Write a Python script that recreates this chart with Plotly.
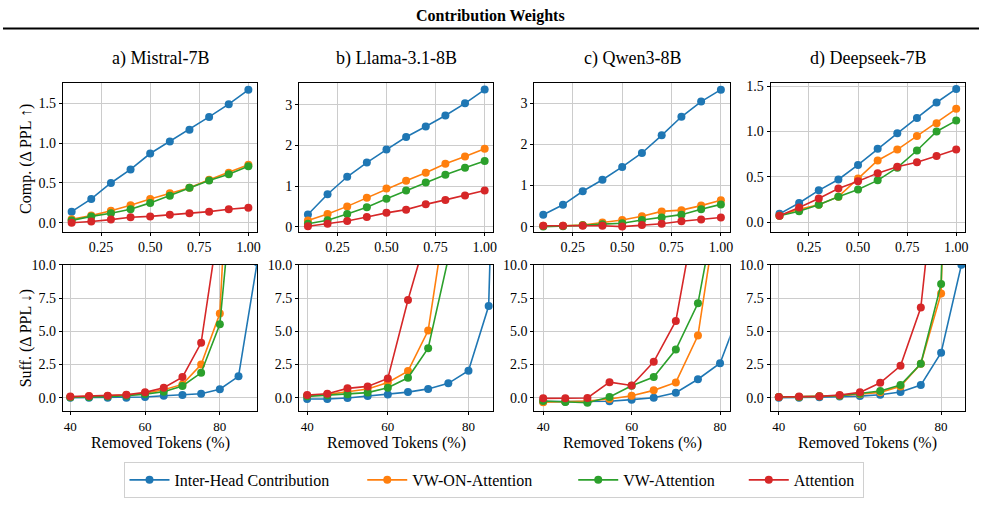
import plotly.graph_objects as go
from plotly.subplots import make_subplots

# ---------------- data ----------------
series_names = ["Inter-Head Contribution", "VW-ON-Attention", "VW-Attention", "Attention"]
series_colors = ["#1f77b4", "#ff7f0e", "#2ca02c", "#d62728"]
legend_pad = [7, 9, 6, 1]  # trailing non-breaking spaces to match legend spacing
model_titles = ["a) Mistral-7B", "b) Llama-3.1-8B", "c) Qwen3-8B", "d) Deepseek-7B"]

comp_x = [0.1, 0.2, 0.3, 0.4, 0.5, 0.6, 0.7, 0.8, 0.9, 1.0]
comp_mistral = [
    [0.14, 0.30, 0.50, 0.67, 0.87, 1.02, 1.17, 1.33, 1.49, 1.67],
    [0.045, 0.09, 0.15, 0.22, 0.30, 0.37, 0.44, 0.54, 0.63, 0.73],
    [0.03, 0.08, 0.12, 0.17, 0.25, 0.34, 0.44, 0.53, 0.61, 0.71],
    [0.0, 0.015, 0.04, 0.07, 0.08, 0.10, 0.12, 0.14, 0.17, 0.19],
]
comp_llama = [
    [0.30, 0.80, 1.23, 1.58, 1.90, 2.21, 2.47, 2.74, 3.04, 3.38],
    [0.15, 0.31, 0.50, 0.71, 0.94, 1.13, 1.33, 1.55, 1.73, 1.92],
    [0.07, 0.16, 0.31, 0.48, 0.69, 0.89, 1.09, 1.28, 1.45, 1.62],
    [0.01, 0.07, 0.14, 0.24, 0.34, 0.42, 0.55, 0.66, 0.77, 0.89],
]
comp_qwen = [
    [0.29, 0.53, 0.86, 1.14, 1.45, 1.79, 2.22, 2.67, 3.04, 3.33],
    [0.02, 0.02, 0.04, 0.10, 0.16, 0.25, 0.37, 0.40, 0.51, 0.64],
    [0.0, 0.01, 0.03, 0.06, 0.08, 0.16, 0.22, 0.29, 0.42, 0.54],
    [0.02, 0.02, 0.02, 0.02, 0.0, 0.04, 0.07, 0.13, 0.17, 0.22],
]
comp_deepseek = [
    [0.09, 0.21, 0.35, 0.47, 0.63, 0.81, 0.98, 1.15, 1.32, 1.47],
    [0.07, 0.14, 0.19, 0.28, 0.48, 0.68, 0.80, 0.95, 1.09, 1.25],
    [0.07, 0.12, 0.19, 0.28, 0.36, 0.46, 0.60, 0.79, 1.00, 1.12],
    [0.07, 0.16, 0.26, 0.37, 0.45, 0.54, 0.61, 0.66, 0.73, 0.80],
]

suff_x = [40, 45, 50, 55, 60, 65, 70, 75, 80, 85, 90]
suff_mistral = [
    [0.0, 0.0, 0.0, 0.0, 0.05, 0.15, 0.2, 0.3, 0.64, 1.61, 10.2],
    [0.05, 0.1, 0.13, 0.2, 0.33, 0.59, 1.0, 2.5, 6.33, 29.0, 60.0],
    [0.03, 0.05, 0.08, 0.15, 0.27, 0.45, 0.88, 1.87, 5.53, 20.5, 50.0],
    [0.08, 0.12, 0.15, 0.22, 0.4, 0.75, 1.55, 4.13, 13.6, 40.0, 80.0],
]
suff_llama = [
    [-0.1, -0.1, -0.03, 0.12, 0.24, 0.42, 0.66, 1.08, 2.03, 6.9, 60.0],
    [0.15, 0.25, 0.45, 0.65, 1.15, 2.0, 5.05, 15.0, 40.0, 100.0, 150.0],
    [0.1, 0.18, 0.25, 0.38, 0.75, 1.5, 3.72, 10.5, 30.0, 80.0, 120.0],
    [0.2, 0.3, 0.7, 0.85, 1.45, 7.35, 12.6, 40.0, 90.0, 150.0, 200.0],
]
suff_qwen = [
    [-0.3, -0.3, -0.3, -0.27, -0.15, 0.0, 0.37, 1.39, 2.59, 7.0, 20.0],
    [-0.34, -0.28, -0.25, -0.1, 0.15, 0.55, 1.15, 4.68, 15.6, 40.0, 80.0],
    [-0.25, -0.32, -0.38, 0.05, 0.9, 1.55, 3.62, 7.1, 16.0, 40.0, 80.0],
    [-0.05, -0.05, -0.02, 1.17, 0.92, 2.7, 5.78, 14.9, 40.0, 80.0, 120.0],
]
suff_deepseek = [
    [0.0, 0.0, 0.03, 0.08, 0.12, 0.22, 0.43, 0.95, 3.38, 10.0, 40.0],
    [0.05, 0.05, 0.1, 0.15, 0.25, 0.4, 0.85, 2.55, 7.85, 60.0, 120.0],
    [0.05, 0.05, 0.1, 0.15, 0.3, 0.5, 0.95, 2.55, 8.55, 60.0, 120.0],
    [0.05, 0.08, 0.1, 0.2, 0.4, 1.12, 2.4, 6.78, 21.0, 60.0, 120.0],
]

comp_yticks = [[0.0, 0.5, 1.0, 1.5], [0, 1, 2, 3], [0, 1, 2, 3], [0.0, 0.5, 1.0, 1.5]]
comp_yticktext = [["0.0", "0.5", "1.0", "1.5"], ["0", "1", "2", "3"], ["0", "1", "2", "3"],
                  ["0.0", "0.5", "1.0", "1.5"]]
comp_yranges = [[-0.11, 1.75], [-0.12, 3.53], [-0.12, 3.48], [-0.105, 1.53]]
comp_xticks = [0.25, 0.50, 0.75, 1.00]
comp_xticktext = ["0.25", "0.50", "0.75", "1.00"]

suff_yticks = [0.0, 2.5, 5.0, 7.5, 10.0]
suff_yticktext = ["0.0", "2.5", "5.0", "7.5", "10.0"]
suff_xticks = [40, 60, 80]
suff_xranges = [[38, 90], [38, 86.2], [38, 82.2], [38, 85.9]]

# ---------------- figure ----------------
W, H = 985, 512
FONT = "Liberation Serif"

fig = make_subplots(rows=2, cols=4)

comp_all = [comp_mistral, comp_llama, comp_qwen, comp_deepseek]
suff_all = [suff_mistral, suff_llama, suff_qwen, suff_deepseek]

for c in range(4):
    for s in range(4):
        fig.add_trace(go.Scatter(
            x=comp_x, y=comp_all[c][s], mode="lines+markers",
            line=dict(color=series_colors[s], width=1.6),
            marker=dict(color=series_colors[s], size=8),
            name=series_names[s] + "\u00a0" * legend_pad[s], legendgroup=series_names[s],
            showlegend=(c == 0)), row=1, col=c + 1)
        fig.add_trace(go.Scatter(
            x=suff_x, y=suff_all[c][s], mode="lines+markers",
            line=dict(color=series_colors[s], width=1.6),
            marker=dict(color=series_colors[s], size=8),
            name=series_names[s], legendgroup=series_names[s],
            showlegend=False), row=2, col=c + 1)

# pixel-based domains
xdom_px = [(63, 258), (300, 495), (536, 732), (773, 968)]
top_px = (78, 229)
bot_px = (263, 412)

def xd(p):
    return [p[0] / W, p[1] / W]

def yd(p):
    return [1 - p[1] / H, 1 - p[0] / H]

axis_common = dict(showline=True, mirror=True, linecolor="black", linewidth=1,
                   showgrid=True, gridcolor="#cccccc", gridwidth=1, zeroline=False,
                   ticks="outside", ticklen=3, tickcolor="black",
                   tickfont=dict(family=FONT, size=14, color="black"))
bottom_x_common = dict(axis_common)
bottom_x_common["tickfont"] = dict(family=FONT, size=13, color="black")

for c in range(4):
    fig.update_xaxes(row=1, col=c + 1, domain=xd(xdom_px[c]), range=[0.055, 1.045],
                     tickvals=comp_xticks, ticktext=comp_xticktext, **axis_common)
    fig.update_yaxes(row=1, col=c + 1, domain=yd(top_px), range=comp_yranges[c],
                     tickvals=comp_yticks[c], ticktext=comp_yticktext[c], **axis_common)
    fig.update_xaxes(row=2, col=c + 1, domain=xd(xdom_px[c]), range=suff_xranges[c],
                     tickvals=suff_xticks, **bottom_x_common)
    fig.update_yaxes(row=2, col=c + 1, domain=yd(bot_px), range=[-1, 10],
                     tickvals=suff_yticks, ticktext=suff_yticktext, **axis_common)

annotations = []
annotations.append(dict(text="<b>Contribution Weights</b>", x=492 / W, y=1 - 9 / H,
                        xref="paper", yref="paper", showarrow=False,
                        font=dict(family=FONT, size=16, color="black"),
                        xanchor="center", yanchor="middle"))
for c in range(4):
    cx = (xdom_px[c][0] + xdom_px[c][1]) / 2 / W
    annotations.append(dict(text=model_titles[c], x=cx, y=1 - 53 / H, xref="paper", yref="paper",
                            showarrow=False, font=dict(family=FONT, size=18, color="black"),
                            xanchor="center", yanchor="middle"))
    annotations.append(dict(text="Removed Tokens (%)", x=cx, y=1 - 445 / H, xref="paper",
                            yref="paper", showarrow=False,
                            font=dict(family=FONT, size=16, color="black"),
                            xanchor="center", yanchor="middle"))
annotations.append(dict(text="Comp. (Δ PPL ↑)", x=26 / W, y=1 - 155 / H, xref="paper",
                        yref="paper", showarrow=False, textangle=-90,
                        font=dict(family=FONT, size=16, color="black"),
                        xanchor="center", yanchor="middle"))
annotations.append(dict(text="Suff. (Δ PPL ↓)", x=26 / W, y=1 - 338 / H, xref="paper",
                        yref="paper", showarrow=False, textangle=-90,
                        font=dict(family=FONT, size=16, color="black"),
                        xanchor="center", yanchor="middle"))

fig.update_layout(
    width=W, height=H,
    margin=dict(l=0, r=0, t=0, b=0),
    paper_bgcolor="white", plot_bgcolor="white",
    font=dict(family=FONT, color="black"),
    annotations=annotations,
    shapes=[dict(type="line", xref="paper", yref="paper", x0=3 / W, x1=982 / W,
                 y0=1 - 22 / H, y1=1 - 22 / H, line=dict(color="black", width=2))],
    legend=dict(orientation="h", x=496 / W, xanchor="center", y=1 - 464 / H, yanchor="top",
                bordercolor="#d0d0d0", borderwidth=1, bgcolor="white",
                font=dict(family=FONT, size=16, color="black"),
                itemwidth=40, tracegroupgap=0),
)

fig.write_html("out.html")
